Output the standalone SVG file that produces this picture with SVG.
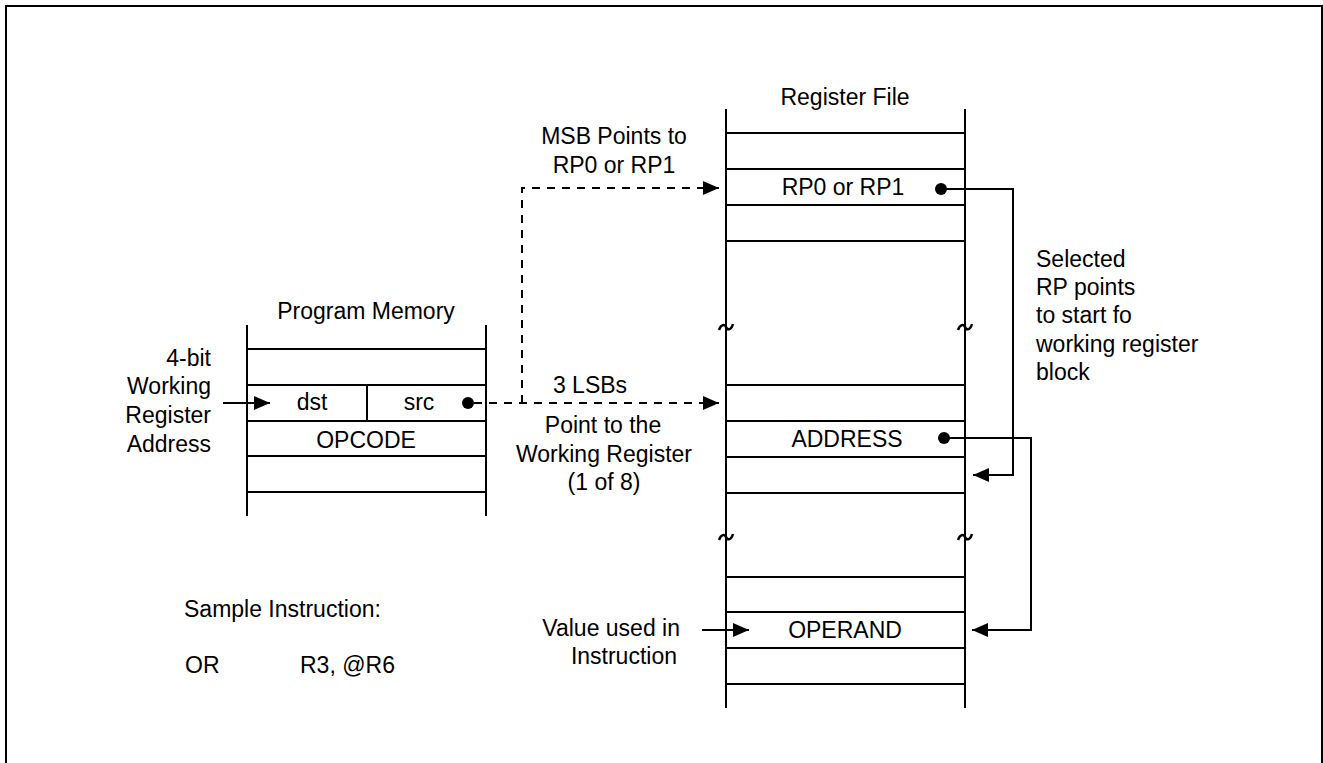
<svg xmlns="http://www.w3.org/2000/svg" width="1323" height="763" viewBox="0 0 1323 763">
<style>
text{font-family:"Liberation Sans",Arial,sans-serif;font-size:23px;fill:#000}
.c{text-anchor:middle}
.e{text-anchor:end}
.ln{stroke:#000;stroke-width:2;fill:none}
.dash{stroke:#000;stroke-width:2;fill:none;stroke-dasharray:8 7}
.tl{stroke:#000;stroke-width:2.5;fill:none}
</style>
<defs>
<marker id="ah" markerUnits="userSpaceOnUse" markerWidth="16" markerHeight="14" refX="16" refY="7" orient="auto">
<path d="M0,0 L16,7 L0,14 Z" fill="#000"/>
</marker>
</defs>
<rect x="6" y="6" width="1316" height="820" fill="none" stroke="#000" stroke-width="2"/>

<g id="program-memory">
<text class="c" x="366" y="319">Program Memory</text>
<line class="ln" x1="247" y1="325" x2="247" y2="516"/>
<line class="ln" x1="486" y1="325" x2="486" y2="516"/>
<line class="ln" x1="247" y1="349" x2="486" y2="349"/>
<line class="ln" x1="247" y1="385" x2="486" y2="385"/>
<line class="ln" x1="247" y1="421" x2="486" y2="421"/>
<line class="ln" x1="247" y1="456" x2="486" y2="456"/>
<line class="ln" x1="247" y1="492" x2="486" y2="492"/>
<line class="ln" x1="367" y1="385" x2="367" y2="421"/>
<text class="c" x="312" y="410">dst</text>
<text class="c" x="419" y="410">src</text>
<text class="c" x="366" y="448">OPCODE</text>
</g>

<g id="register-file">
<text class="c" x="845" y="105">Register File</text>
<line class="ln" x1="726" y1="109" x2="726" y2="708"/>
<line class="ln" x1="965" y1="109" x2="965" y2="708"/>
<line class="ln" x1="726" y1="133" x2="965" y2="133"/>
<line class="ln" x1="726" y1="169" x2="965" y2="169"/>
<line class="ln" x1="726" y1="205" x2="965" y2="205"/>
<line class="ln" x1="726" y1="241" x2="965" y2="241"/>
<line class="ln" x1="726" y1="385" x2="965" y2="385"/>
<line class="ln" x1="726" y1="421" x2="965" y2="421"/>
<line class="ln" x1="726" y1="457" x2="965" y2="457"/>
<line class="ln" x1="726" y1="493" x2="965" y2="493"/>
<line class="ln" x1="726" y1="577" x2="965" y2="577"/>
<line class="ln" x1="726" y1="612" x2="965" y2="612"/>
<line class="ln" x1="726" y1="648" x2="965" y2="648"/>
<line class="ln" x1="726" y1="684" x2="965" y2="684"/>
<path class="tl" d="M719,330 C721,324 725,324 726,327 S731,331 733,324"/>
<path class="tl" d="M958,330 C960,324 964,324 965,327 S970,331 972,324"/>
<path class="tl" d="M719,540 C721,534 725,534 726,537 S731,541 733,534"/>
<path class="tl" d="M958,540 C960,534 964,534 965,537 S970,541 972,534"/>
<text class="c" x="843" y="195">RP0 or RP1</text>
<text class="c" x="847" y="447">ADDRESS</text>
<text class="c" x="845" y="638">OPERAND</text>
</g>

<g id="labels">
<text class="e" x="211" y="366">4-bit</text>
<text class="e" x="211" y="394">Working</text>
<text class="e" x="211" y="423">Register</text>
<text class="e" x="211" y="452">Address</text>
<text class="c" x="614" y="144">MSB Points to</text>
<text class="c" x="614" y="173">RP0 or RP1</text>
<text class="c" x="590" y="393">3 LSBs</text>
<text class="c" x="603" y="433">Point to the</text>
<text class="c" x="604" y="462">Working Register</text>
<text class="c" x="604" y="490">(1 of 8)</text>
<text x="1036" y="267">Selected</text>
<text x="1036" y="295">RP points</text>
<text x="1036" y="323">to start fo</text>
<text x="1036" y="352">working register</text>
<text x="1036" y="380">block</text>
<text class="e" x="680" y="636">Value used in</text>
<text class="e" x="677" y="664">Instruction</text>
<text x="184" y="617">Sample Instruction:</text>
<text x="185" y="673">OR</text>
<text x="300" y="673">R3, @R6</text>
</g>

<g id="connectors">
<line class="ln" x1="223" y1="403" x2="270" y2="403" marker-end="url(#ah)"/>
<circle cx="468" cy="403" r="6" fill="#000"/>
<line class="dash" x1="474" y1="403" x2="719" y2="403" marker-end="url(#ah)"/>
<polyline class="dash" points="522,403 522,188 719,188" marker-end="url(#ah)"/>
<circle cx="941" cy="189" r="6" fill="#000"/>
<polyline class="ln" points="941,189 1013,189 1013,475 973,475" marker-end="url(#ah)"/>
<circle cx="944" cy="438" r="6" fill="#000"/>
<polyline class="ln" points="944,438 1031,438 1031,630 972,630" marker-end="url(#ah)"/>
<line class="ln" x1="702" y1="630" x2="749" y2="630" marker-end="url(#ah)"/>
</g>
</svg>
